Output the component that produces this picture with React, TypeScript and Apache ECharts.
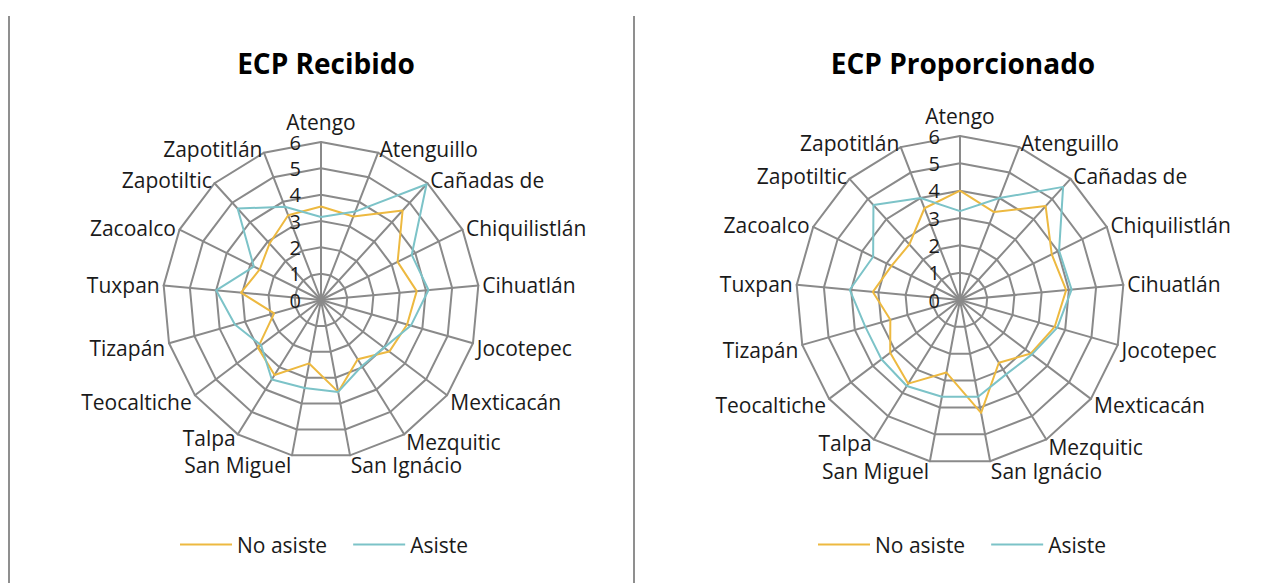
import React, { useEffect, useRef } from "react";
import * as echarts from "echarts";

// Categories in clockwise order starting at the top
const categories = [
  "Atengo",
  "Atenguillo",
  "Cañadas de",
  "Chiquilistlán",
  "Cihuatlán",
  "Jocotepec",
  "Mexticacán",
  "Mezquitic",
  "San Ignácio",
  "San Miguel",
  "Talpa",
  "Teocaltiche",
  "Tizapán",
  "Tuxpan",
  "Zacoalco",
  "Zapotiltic",
  "Zapotitlán",
];

const seriesNames = ["No asiste", "Asiste"];
const chartTitles = ["ECP Recibido", "ECP Proporcionado"];

const recibidoNoAsiste = [3.55, 3.4, 4.6, 3.25, 3.65, 3.4, 3.25, 2.65, 3.55, 2.45, 3.35, 3.0, 1.85, 3.05, 2.6, 2.9, 3.45];
const recibidoAsiste = [3.15, 3.6, 5.95, 3.85, 4.1, 3.55, 3.0, 2.95, 3.55, 3.4, 3.55, 2.85, 3.4, 4.0, 2.85, 4.7, 3.8];

const proporcionadoNoAsiste = [4.0, 3.45, 4.65, 3.75, 3.9, 3.6, 3.25, 2.7, 4.2, 2.7, 3.6, 3.2, 2.65, 3.2, 2.8, 2.75, 3.6];
const proporcionadoAsiste = [3.25, 4.0, 5.6, 4.05, 4.1, 3.7, 3.3, 3.2, 3.6, 3.6, 3.7, 3.6, 3.6, 4.05, 3.55, 4.7, 4.0];

const axisMin = 0;
const axisMax = 6;
const axisSplits = 6;

const ORANGE = "#EDB940";
const TEAL = "#7CC3C8";
const GRID = "#8a8a8a";
const TEXT = "#1a1a1a";
const FONT = "'Open Sans', sans-serif";

// ECharts places radar indicators counter-clockwise; reorder to draw clockwise
const order = [0, ...categories.map((_, i) => i).slice(1).reverse()];
const reorder = (arr: number[]) => order.map((i) => arr[i]);

const lowerNames = new Set([...categories.slice(5, 8), ...categories.slice(11, 13)]);
const bottomNames = new Set([categories[8], categories[9]]);

function makeRadar(center: number[], radius: number) {
  return {
    center,
    radius,
    startAngle: 90,
    splitNumber: axisSplits,
    shape: "polygon",
    indicator: order.map((idx, k) => {
      const ind: any = { name: categories[idx], min: axisMin, max: axisMax };
      if (k === 0) {
        ind.axisLabel = {
          show: true,
          color: TEXT,
          fontSize: 20,
          fontFamily: FONT,
          margin: 20,
          padding: [8, 0, 0, 0],
        };
      }
      return ind;
    }),
    nameGap: 4,
    axisName: {
      color: TEXT,
      fontSize: 21,
      fontFamily: FONT,
      formatter: (name: string) =>
        bottomNames.has(name) ? `{c|${name}}` : lowerNames.has(name) ? `{b|${name}}` : `{a|${name}}`,
      rich: {
        a: { color: TEXT, fontSize: 21, fontFamily: FONT },
        b: { color: TEXT, fontSize: 21, fontFamily: FONT, padding: [8, 0, 0, 0] },
        c: { color: TEXT, fontSize: 21, fontFamily: FONT, padding: [12, 0, 0, 0] },
      },
    },
    splitLine: { lineStyle: { color: GRID, width: 2 } },
    splitArea: { show: false },
    axisLine: { lineStyle: { color: GRID, width: 2 } },
    axisTick: { show: false },
    axisLabel: { show: false },
  };
}

function makeSeries(radarIndex: number, noAsiste: number[], asiste: number[]) {
  return {
    type: "radar",
    radarIndex,
    symbol: "none",
    data: [
      {
        name: seriesNames[0],
        value: reorder(noAsiste),
        lineStyle: { color: ORANGE, width: 2 },
        itemStyle: { color: ORANGE },
      },
      {
        name: seriesNames[1],
        value: reorder(asiste),
        lineStyle: { color: TEAL, width: 2 },
        itemStyle: { color: TEAL },
      },
    ],
  };
}

function makeLegend(left: number) {
  return {
    left,
    top: 534,
    padding: 0,
    data: seriesNames,
    icon: "rect",
    itemWidth: 52,
    itemHeight: 2,
    itemGap: 26,
    textStyle: { color: TEXT, fontSize: 21, fontFamily: FONT },
  };
}

export default function App() {
  const ref = useRef<HTMLDivElement>(null);
  useEffect(() => {
    if (!ref.current) return;
    const chart = echarts.init(ref.current, undefined, { renderer: "svg" });
    const titleStyle = { color: "#000", fontSize: 28, fontWeight: "bold", fontFamily: FONT };
    chart.setOption({
      animation: false,
      backgroundColor: "#ffffff",
      title: [
        { text: chartTitles[0], left: 321, top: 44, textAlign: "center", textStyle: titleStyle },
        { text: chartTitles[1], left: 958, top: 44, textAlign: "center", textStyle: titleStyle },
      ],
      legend: [makeLegend(180), makeLegend(818)],
      radar: [makeRadar([321, 300], 158), makeRadar([960, 300], 164)],
      series: [
        makeSeries(0, recibidoNoAsiste, recibidoAsiste),
        makeSeries(1, proporcionadoNoAsiste, proporcionadoAsiste),
      ],
      graphic: [
        { type: "line", shape: { x1: 9, y1: 16, x2: 9, y2: 583 }, style: { stroke: "#8f8f8f", lineWidth: 2 } },
        { type: "line", shape: { x1: 634, y1: 16, x2: 634, y2: 583 }, style: { stroke: "#8f8f8f", lineWidth: 2 } },
      ],
    });
    return () => chart.dispose();
  }, []);
  return (
    <div
      ref={ref}
      style={{ position: "fixed", left: 0, top: 0, width: 1270, height: 583 }}
    />
  );
}
